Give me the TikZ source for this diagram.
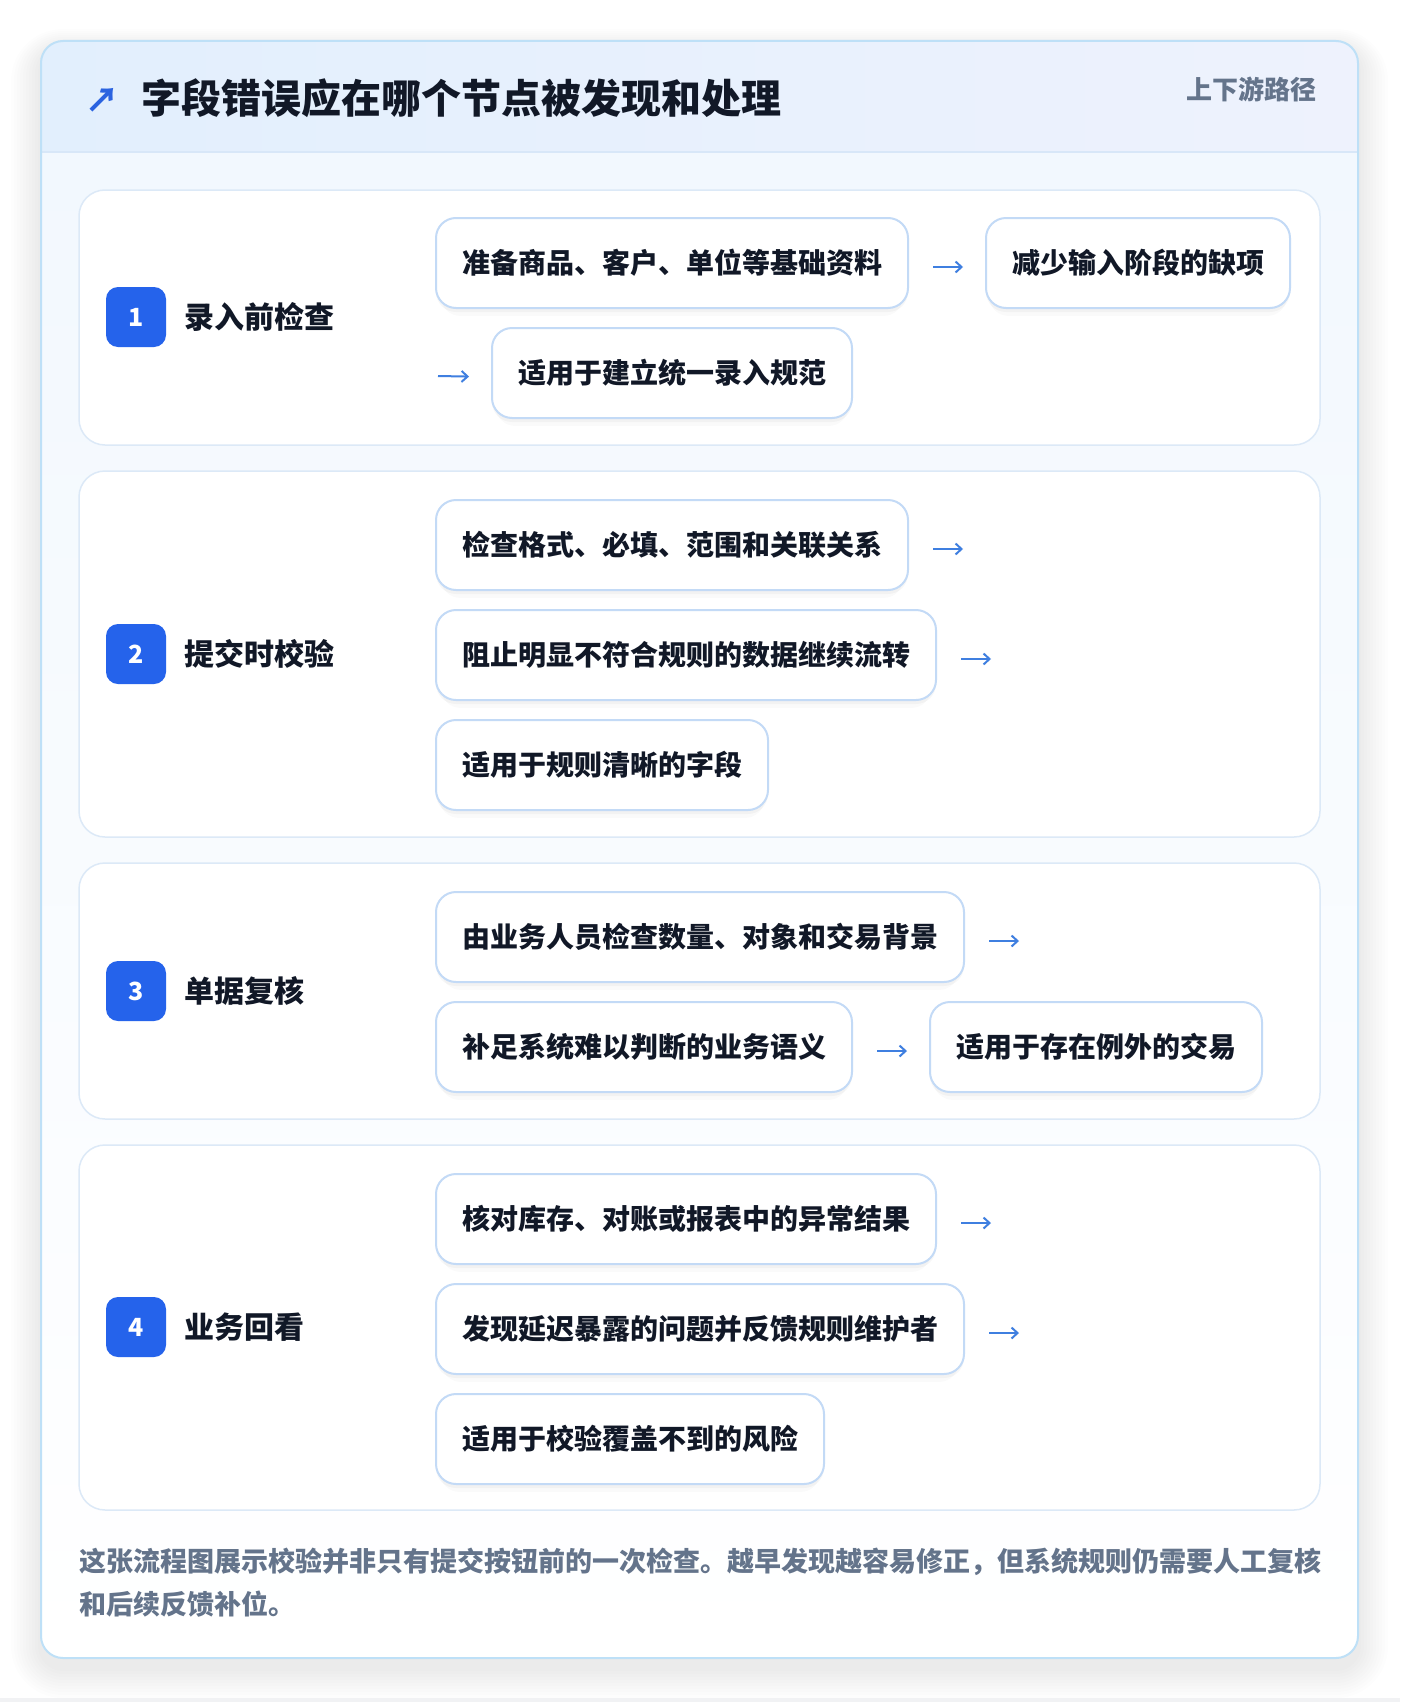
\documentclass[tikz,border=0pt]{standalone}
\usepackage{fontspec}
\setmainfont{Noto Sans CJK SC}
\usetikzlibrary{positioning,arrows.meta,shadows}
\definecolor{ink}{HTML}{111827}
\definecolor{badgeblue}{HTML}{2563EB}
\definecolor{arrowblue}{HTML}{3F7FE0}
\definecolor{iconblue}{HTML}{2B63E0}
\definecolor{boxline}{HTML}{C3DAF6}
\definecolor{cardline}{HTML}{DCE9F7}
\definecolor{outerline}{HTML}{BEE0F7}
\definecolor{headleft}{HTML}{E2EFFD}
\definecolor{headright}{HTML}{EEF2FD}
\definecolor{headsep}{HTML}{D8E7F8}
\definecolor{bodytop}{HTML}{F2F8FE}
\definecolor{notegray}{HTML}{64748B}
\definecolor{bottomgray}{HTML}{F1F2F4}
\begin{document}
\begin{tikzpicture}[x=1pt,y=-1pt,
  stepbox/.style={draw=boxline, line width=2pt, fill=white, rounded corners=20pt,
    minimum height=90pt, inner xsep=26pt, inner ysep=0pt, anchor=north west,
    font=\fontsize{28}{32}\selectfont\bfseries, text=ink,
    general shadow={shadow xshift=0pt, shadow yshift=-4pt, fill=black, opacity=0.03},
    general shadow={shadow xshift=0pt, shadow yshift=-9pt, shadow scale=0.98, fill=black, opacity=0.02}},
  stagecard/.style={draw=cardline, line width=1.5pt, fill=white, rounded corners=26pt},
  badge/.style={fill=badgeblue, rounded corners=12pt, minimum size=60pt, inner sep=0pt,
    text=white, font=\fontsize{25}{28}\selectfont\bfseries},
  stagelabel/.style={anchor=west, inner sep=0pt, text=ink, font=\fontsize{30}{34}\selectfont\bfseries},
  flowarrow/.style={draw=arrowblue, line width=2pt, -{Straight Barb[length=6pt,width=11pt]}},
  node distance=76pt]
\useasboundingbox (0,0) rectangle (1400,1702);
\fill[white] (0,0) rectangle (1400,1702);
\fill[bottomgray] (0,1698) rectangle (1400,1702);
\foreach \i in {1,...,10}
  \fill[black, opacity=0.009, rounded corners=22+3*\i] (41-3*\i,49-2*\i) rectangle (1358+3*\i,1668+3*\i);
\begin{scope}
\clip[rounded corners=22pt] (41,41) rectangle (1358,1658);
\shade[top color=bodytop, bottom color=white] (41,152) rectangle (1358,1658);
\shade[left color=headleft, right color=headright] (41,41) rectangle (1358,152);
\draw[headsep, line width=2pt] (41,152) -- (1358,152);
\end{scope}
\draw[outerline, line width=2pt, rounded corners=22pt] (41,41) rectangle (1358,1658);
\node[text=iconblue, inner sep=0pt, font=\fontsize{34}{34}\selectfont\bfseries] (icon) at (102,100) {↗};
\node[anchor=west, inner sep=0pt, text=ink, font=\fontsize{40}{42}\selectfont\bfseries] (title) at (141,98) {字段错误应在哪个节点被发现和处理};
\node[anchor=east, inner sep=0pt, text=notegray, font=\fontsize{26}{30}\selectfont\bfseries] (route) at (1317,89) {上下游路径};

\draw[stagecard] (79,190) rectangle (1320,445);
\node[badge] (b1) at (136,317) {1};
\node[stagelabel] (l1) at (184,317) {录入前检查};
\node[stepbox] (s1a) at (435,217) {准备商品、客户、单位等基础资料};
\node[stepbox, right=of s1a] (s1b) {减少输入阶段的缺项};
\node[stepbox] (s1c) at (491,327) {适用于建立统一录入规范};
\coordinate (s1c-in) at (438,376);
\draw[flowarrow, shorten <=24pt, shorten >=22pt] ([yshift=-4pt]s1a.east) -- ([yshift=-4pt]s1b.west);
\draw[flowarrow, shorten >=22pt] (s1c-in) -- ([yshift=-4pt]s1c.west);

\draw[stagecard] (79,471) rectangle (1320,837);
\node[badge] (b2) at (136,654) {2};
\node[stagelabel] (l2) at (184,654) {提交时校验};
\node[stepbox] (s2a) at (435,499) {检查格式、必填、范围和关联关系};
\node[stepbox] (s2b) at (435,609) {阻止明显不符合规则的数据继续流转};
\node[stepbox] (s2c) at (435,719) {适用于规则清晰的字段};
\coordinate (s2a-out) at ([xshift=54pt,yshift=-4pt]s2a.east);
\coordinate (s2b-out) at ([xshift=54pt,yshift=-4pt]s2b.east);
\draw[flowarrow, shorten <=24pt] ([yshift=-4pt]s2a.east) -- (s2a-out);
\draw[flowarrow, shorten <=24pt] ([yshift=-4pt]s2b.east) -- (s2b-out);

\draw[stagecard] (79,863) rectangle (1320,1119);
\node[badge] (b3) at (136,991) {3};
\node[stagelabel] (l3) at (184,991) {单据复核};
\node[stepbox] (s3a) at (435,891) {由业务人员检查数量、对象和交易背景};
\node[stepbox] (s3b) at (435,1001) {补足系统难以判断的业务语义};
\node[stepbox, right=of s3b] (s3c) {适用于存在例外的交易};
\coordinate (s3a-out) at ([xshift=54pt,yshift=-4pt]s3a.east);
\draw[flowarrow, shorten <=24pt] ([yshift=-4pt]s3a.east) -- (s3a-out);
\draw[flowarrow, shorten <=24pt, shorten >=22pt] ([yshift=-4pt]s3b.east) -- ([yshift=-4pt]s3c.west);

\draw[stagecard] (79,1145) rectangle (1320,1510);
\node[badge] (b4) at (136,1327) {4};
\node[stagelabel] (l4) at (184,1327) {业务回看};
\node[stepbox] (s4a) at (435,1173) {核对库存、对账或报表中的异常结果};
\node[stepbox] (s4b) at (435,1283) {发现延迟暴露的问题并反馈规则维护者};
\node[stepbox] (s4c) at (435,1393) {适用于校验覆盖不到的风险};
\coordinate (s4a-out) at ([xshift=54pt,yshift=-4pt]s4a.east);
\coordinate (s4b-out) at ([xshift=54pt,yshift=-4pt]s4b.east);
\draw[flowarrow, shorten <=24pt] ([yshift=-4pt]s4a.east) -- (s4a-out);
\draw[flowarrow, shorten <=24pt] ([yshift=-4pt]s4b.east) -- (s4b-out);

\node[anchor=north west, inner sep=0pt, align=left, text=notegray,
  font=\fontsize{27}{43}\selectfont\bfseries] (note) at (79,1548)
  {这张流程图展示校验并非只有提交按钮前的一次检查。越早发现越容易修正，但系统规则仍需要人工复核\\和后续反馈补位。};
\end{tikzpicture}
\end{document}
